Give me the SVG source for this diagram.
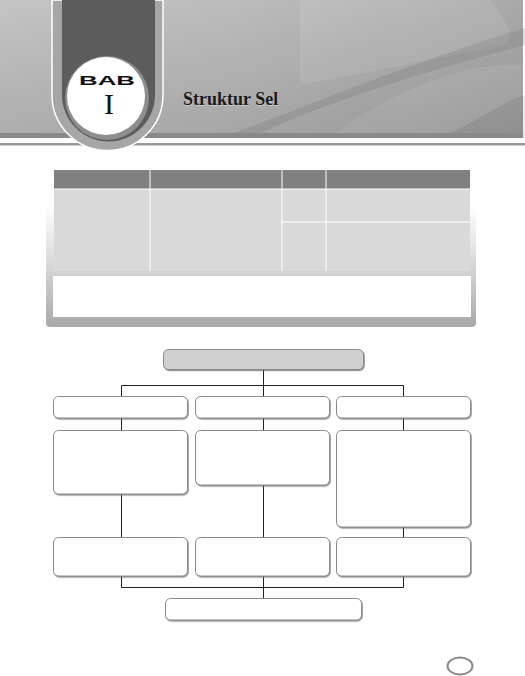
<svg xmlns="http://www.w3.org/2000/svg" width="525" height="676" viewBox="0 0 525 676">
<defs>
<linearGradient id="bg" x1="0" y1="0" x2="1" y2="0">
<stop offset="0" stop-color="#c4c4c4"/>
<stop offset="0.45" stop-color="#bcbcbc"/>
<stop offset="1" stop-color="#a9a9a9"/>
</linearGradient>
<linearGradient id="band" x1="0" y1="0" x2="0" y2="1">
<stop offset="0" stop-color="#000" stop-opacity="0"/>
<stop offset="1" stop-color="#000" stop-opacity="0.12"/>
</linearGradient>
<linearGradient id="frame" x1="0" y1="0" x2="0" y2="1">
<stop offset="0" stop-color="#ffffff"/>
<stop offset="0.35" stop-color="#e4e4e4"/>
<stop offset="1" stop-color="#a8a8a8"/>
</linearGradient>
<filter id="sh" x="-10%" y="-10%" width="130%" height="140%">
<feDropShadow dx="0.8" dy="1.2" stdDeviation="0.5" flood-color="#666" flood-opacity="0.7"/>
</filter>
</defs>
<style>
.box{fill:#ffffff;stroke:#8a8a8a;stroke-width:1;filter:url(#sh)}
.top{fill:#d0d0d0;stroke:#8a8a8a;stroke-width:1;filter:url(#sh)}
.con{fill:none;stroke:#222;stroke-width:1}
.th{fill:#808080}
.td{fill:#d9d9d9}
.sep{stroke:#ffffff;stroke-width:1}
</style>
<rect width="525" height="676" fill="#ffffff"/>
<g id="header">
<rect x="0" y="0" width="523" height="138" fill="url(#bg)"/>
<path d="M300 0 L490 0 C510 25 515 40 505 45 C430 60 370 72 300 85 Z" fill="#ffffff" opacity="0.1"/>
<path d="M230 135 C320 100 420 60 525 28 L525 45 C430 70 330 100 250 138 Z" fill="#7a7a7a" opacity="0.25"/>
<path d="M330 138 C390 90 470 60 525 65 L525 138 Z" fill="#ffffff" opacity="0.1"/>
<path d="M440 138 C480 120 505 100 525 95 L525 138 Z" fill="#000000" opacity="0.08"/>
<rect x="0" y="0" width="523" height="138" fill="url(#band)"/>
<rect x="0" y="133" width="523" height="5" fill="#8a8a8a"/>
<rect x="0" y="143" width="525" height="2.5" fill="#999999"/>
</g>
<g id="tab">
<path d="M52 0 L52 95 A55.5 55.5 0 0 0 163 95 L163 0 Z" fill="#a6a6a6" stroke="#ffffff" stroke-width="1.5"/>
<path d="M62 0 L62 95 A46.5 46.5 0 0 0 155 95 L155 0 Z" fill="#5c5c5c"/>
<circle cx="107" cy="98" r="42" fill="#8e8e8e"/>
<circle cx="106" cy="96" r="39" fill="#ffffff"/>
<text x="79" y="85" textLength="56" lengthAdjust="spacingAndGlyphs" font-family="Liberation Sans, sans-serif" font-weight="bold" font-size="12.5" fill="#111">BAB</text>
<text x="109" y="114" text-anchor="middle" font-family="Liberation Serif, serif" font-size="30" fill="#111">I</text>
</g>
<g id="title">
<text x="183.6" y="105.8" font-family="Liberation Serif, serif" font-weight="bold" font-size="18" fill="#e6e6e6" opacity="0.6">Struktur Sel</text>
<text x="183" y="105" font-family="Liberation Serif, serif" font-weight="bold" font-size="18" fill="#1a1a1a">Struktur Sel</text>
</g>
<g id="table">
<rect x="46" y="205" width="430" height="122" rx="4" fill="url(#frame)"/>
<rect x="54" y="170" width="416" height="19" class="th"/>
<rect x="54" y="189" width="416" height="82" class="td"/>
<line x1="150" y1="170" x2="150" y2="271" class="sep"/>
<line x1="282" y1="170" x2="282" y2="271" class="sep"/>
<line x1="326" y1="170" x2="326" y2="271" class="sep"/>
<line x1="54" y1="189" x2="470" y2="189" class="sep"/>
<line x1="282" y1="222" x2="470" y2="222" class="sep"/>
<rect x="53" y="276" width="418" height="41" fill="#ffffff"/>
</g>
<g id="connectors">
<path class="con" d="M263.5 369 V385.5 M121.5 396 V385.5 H403.5 V396 M263.5 385.5 V396"/>
<path class="con" d="M121.5 418 V430 M263.5 418 V430 M403.5 418 V430"/>
<path class="con" d="M121.5 494 V537 M263.5 485 V537 M403.5 527 V537"/>
<path class="con" d="M121.5 576 V587.5 H403.5 V576 M263.5 576 V598"/>
</g>
<g id="n-top"><rect x="163.5" y="349.5" width="200" height="20" rx="5" class="top"/></g>
<g id="n-a1"><rect x="53.5" y="396.5" width="134" height="21.5" rx="5" class="box"/></g>
<g id="n-b1"><rect x="195.5" y="396.5" width="134" height="21.5" rx="5" class="box"/></g>
<g id="n-c1"><rect x="336.5" y="396.5" width="134" height="21.5" rx="5" class="box"/></g>
<g id="n-a2"><rect x="53.5" y="430.5" width="134" height="63.5" rx="5" class="box"/></g>
<g id="n-b2"><rect x="195.5" y="430.5" width="134" height="54.5" rx="5" class="box"/></g>
<g id="n-c2"><rect x="336.5" y="430.5" width="134" height="96.5" rx="5" class="box"/></g>
<g id="n-a3"><rect x="53.5" y="537.5" width="134" height="38.5" rx="5" class="box"/></g>
<g id="n-b3"><rect x="195.5" y="537.5" width="134" height="38.5" rx="5" class="box"/></g>
<g id="n-c3"><rect x="336.5" y="537.5" width="134" height="38.5" rx="5" class="box"/></g>
<g id="n-bottom"><rect x="165.5" y="598.5" width="196" height="21.5" rx="5" class="box"/></g>
<g id="page">
<ellipse cx="460" cy="666" rx="12.5" ry="8.5" fill="#ffffff" stroke="#8a8a8a" stroke-width="2"/>
</g>
</svg>
